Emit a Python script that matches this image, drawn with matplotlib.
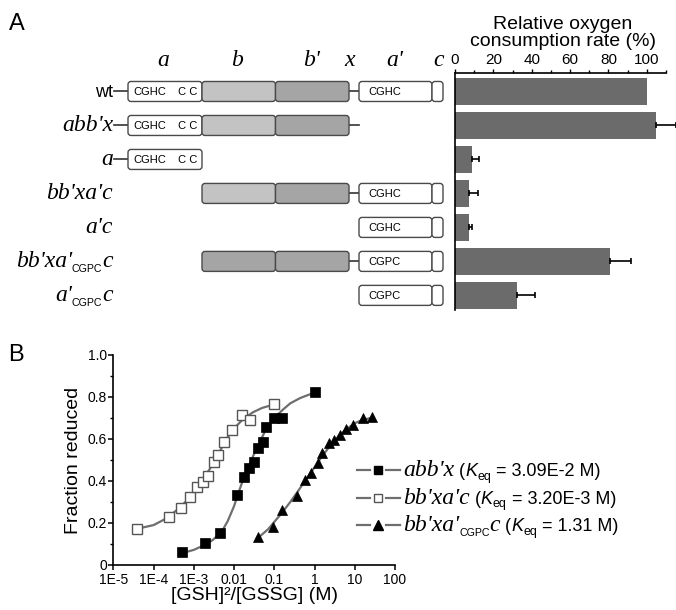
import numpy as np
import matplotlib
matplotlib.use('Agg')
import matplotlib.pyplot as plt
from matplotlib.patches import FancyBboxPatch
from matplotlib.ticker import FixedLocator, NullLocator, MultipleLocator

SANS = 'Liberation Sans'
SERIF = 'Liberation Serif'
plt.rcParams['font.family'] = SANS

# ---- panel A data ----
constructs = ["wt", "abb'x", "a", "bb'xa'c", "a'c", "bb'xa'CGPCc", "a'CGPCc"]
rate = [100, 105, 9, 7.5, 7.5, 81, 32.5]
rate_err = [0, 10, 3.5, 4.5, 1.5, 11, 9]
# domain make-up of every construct ("N" = N-terminal tail, "b*" = dark b)
row_domains = [["N", "a", "b", "b'", "x", "a'", "c"],
               ["N", "a", "b", "b'", "x"],
               ["N", "a"],
               ["b", "b'", "x", "a'", "c"],
               ["a'", "c"],
               ["b*", "b'", "x", "a'", "c"],
               ["a'", "c"]]
a2_motif = ["CGHC", None, None, "CGHC", "CGHC", "CGPC", "CGPC"]

# ---- panel B data ----
x_fill = [5.0e-4, 1.9e-3, 4.5e-3, 1.2e-2, 1.78e-2, 2.36e-2, 3.15e-2, 4.0e-2, 5.1e-2, 6.4e-2, 9.9e-2, 0.159, 1.0]
y_fill = [0.063, 0.103, 0.151, 0.333, 0.42, 0.46, 0.49, 0.556, 0.587, 0.659, 0.698, 0.698, 0.825]
x_open = [3.8e-5, 2.46e-4, 4.7e-4, 8.0e-4, 1.18e-3, 1.66e-3, 2.2e-3, 3.2e-3, 3.9e-3, 5.6e-3, 8.7e-3, 1.62e-2, 2.5e-2, 9.9e-2]
y_open = [0.171, 0.23, 0.27, 0.325, 0.37, 0.397, 0.425, 0.49, 0.524, 0.587, 0.643, 0.714, 0.69, 0.765]
x_tri = [0.040, 0.095, 0.153, 0.373, 0.58, 0.80, 1.24, 1.51, 2.33, 3.05, 4.3, 6.07, 9.2, 15.8, 26.5]
y_tri = [0.135, 0.18, 0.262, 0.329, 0.405, 0.437, 0.484, 0.532, 0.579, 0.595, 0.619, 0.646, 0.667, 0.70, 0.703]

# fitted curves
cx_fill = [5e-4, 1e-3, 2e-3, 3e-3, 5e-3, 7e-3, 1e-2, 1.5e-2, 2e-2, 3e-2, 4e-2, 6e-2, 0.1, 0.16, 0.25, 0.44, 0.7, 1.0]
cy_fill = [0.056, 0.072, 0.098, 0.12, 0.16, 0.21, 0.28, 0.38, 0.44, 0.52, 0.57, 0.64, 0.70, 0.738, 0.77, 0.795, 0.81, 0.82]
cx_open = [3.8e-5, 1e-4, 2e-4, 4e-4, 7e-4, 1e-3, 1.5e-3, 2e-3, 3e-3, 5e-3, 7e-3, 1e-2, 1.5e-2, 2e-2, 3e-2, 5e-2, 0.1]
cy_open = [0.172, 0.19, 0.22, 0.265, 0.31, 0.35, 0.395, 0.43, 0.48, 0.56, 0.61, 0.65, 0.685, 0.705, 0.728, 0.748, 0.765]
cx_tri = [0.04, 0.07, 0.1, 0.15, 0.25, 0.4, 0.6, 1.0, 1.5, 2.5, 4, 6, 10, 15, 25]
cy_tri = [0.13, 0.17, 0.205, 0.245, 0.30, 0.355, 0.405, 0.465, 0.515, 0.57, 0.615, 0.645, 0.675, 0.69, 0.70]

xtick_vals = [1e-5, 1e-4, 1e-3, 1e-2, 1e-1, 1, 10, 100]
xtick_labels = ['1E-5', '1E-4', '1E-3', '0.01', '0.1', '1', '10', '100']
keq_labels = ['3.09E-2', '3.20E-3', '1.31']

W, H = 676, 610
fig = plt.figure(figsize=(W / 100, H / 100), dpi=100)


def fx(px):
    return px / W


def fy(py):
    return 1 - py / H


# ---------------- bar chart (A, right) ----------------
axA = fig.add_axes([fx(455), fy(310), 211 / W, (310 - 73) / H])
ypos = np.arange(len(constructs))
axA.barh(ypos, rate, height=0.8, color='#6b6b6b', zorder=2)
err = np.array(rate_err, float)
m = err > 0
eb = axA.errorbar(np.array(rate)[m], ypos[m], xerr=[np.zeros(m.sum()), err[m]], fmt='none',
                  ecolor='k', elinewidth=1.2, capsize=2.5, capthick=1.2, zorder=3)
for art in list(eb.lines[1]) + list(eb.lines[2]):
    art.set_clip_on(False)
axA.set_xlim(0, 110)
axA.set_ylim(6.43, -0.544)
axA.xaxis.tick_top()
axA.xaxis.set_major_locator(MultipleLocator(20))
axA.xaxis.set_minor_locator(MultipleLocator(10))
axA.tick_params(axis='x', which='major', direction='out', length=3, width=1, labelsize=11, pad=1)
axA.tick_params(axis='x', which='minor', direction='out', length=2, width=1)
axA.tick_params(axis='y', left=False, labelleft=False)
for s in ('right', 'bottom'):
    axA.spines[s].set_visible(False)
for s in ('top', 'left'):
    axA.spines[s].set_linewidth(1.2)
axA.patch.set_alpha(0)

# ---------------- titration (B) ----------------
axB = fig.add_axes([fx(113.3), fy(565), (395 - 113.3) / W, (565 - 355) / H])
axB.set_xscale('log')
curve_kw = dict(color='#6e6e6e', lw=1.6, zorder=2)
axB.plot(cx_open, cy_open, **curve_kw)
axB.plot(cx_fill, cy_fill, **curve_kw)
axB.plot(cx_tri, cy_tri, **curve_kw)
axB.plot(x_open, y_open, 's', ms=6.5, mfc='white', mec='#555555', mew=1.0, zorder=3)
axB.plot(x_fill, y_fill, 's', ms=6.5, mfc='black', mec='black', mew=0.5, zorder=3)
axB.plot(x_tri, y_tri, '^', ms=7.5, mfc='black', mec='black', mew=0.5, zorder=3)
axB.set_xlim(1e-5, 100)
axB.set_ylim(0, 1)
axB.xaxis.set_major_locator(FixedLocator(xtick_vals))
axB.xaxis.set_minor_locator(NullLocator())
axB.set_xticklabels(xtick_labels)
axB.set_yticks([0, 0.2, 0.4, 0.6, 0.8, 1.0])
axB.set_yticklabels(['0', '0.2', '0.4', '0.6', '0.8', '1.0'])
axB.yaxis.set_minor_locator(MultipleLocator(0.1))
axB.tick_params(which='major', direction='out', length=3.5, width=1.1, labelsize=10, pad=1)
axB.tick_params(axis='x', which='major', pad=2.5)
axB.tick_params(which='minor', direction='out', length=2.5, width=1)
for s in ('right', 'top'):
    axB.spines[s].set_visible(False)
for s in ('left', 'bottom'):
    axB.spines[s].set_linewidth(1.2)
axB.set_xlabel('[GSH]\u00b2/[GSSG] (M)', fontsize=14, labelpad=0)
axB.set_ylabel('Fraction reduced', fontsize=14, labelpad=4)
axB.patch.set_alpha(0)

# ---------------- overlay in pixel coordinates ----------------
bg = fig.add_axes([0, 0, 1, 1], zorder=5)
bg.set_xlim(0, W)
bg.set_ylim(H, 0)
bg.axis('off')
renderer = fig.canvas.get_renderer()

IT = dict(family=SERIF, style='italic', fontsize=17)
SN = dict(family=SANS, fontsize=13)
SUB = dict(family=SANS, fontsize=7.7)


def rich(x, y, parts, ha='left'):
    arts, widths = [], []
    for s, kw, dy in parts:
        t = bg.text(0, 0, s, va='baseline', ha='left', **kw)
        widths.append(t.get_window_extent(renderer=renderer).width)
        arts.append(t)
    x0 = x - sum(widths) if ha == 'right' else x
    for t, w, (s, kw, dy) in zip(arts, widths, parts):
        t.set_position((x0, y + dy))
        x0 += w


def label_parts(name):
    if name == 'wt':
        return [('wt', SN, 0)]
    if 'CGPC' in name:
        head, tail = name.split('CGPC')
        return [(head, IT, 0), ('CGPC', SUB, 5), (tail, IT, 0)]
    return [(name, IT, 0)]


bg.text(17, 24, 'A', fontsize=17, ha='center', va='center')
bg.text(16, 355, 'B', fontsize=17, ha='center', va='center')

# domain header letters
for lab, xc in [('a', 163), ('b', 237), ("b'", 312), ('x', 350), ("a'", 395), ('c', 439)]:
    bg.text(xc, 66, lab, ha='center', va='baseline', **IT)

bg.text(563, 33, 'Relative oxygen\nconsumption rate (%)', fontsize=14, ha='center',
        va='center', linespacing=0.95)

spans = {'a': (128, 202), 'b': (202, 275.5), "b'": (275.5, 349), "a'": (359, 432), 'c': (432, 443)}
fills = {'a': 'white', 'b': '#c3c3c3', "b'": '#a5a5a5', "a'": 'white', 'c': 'white'}
EDGE = '#4a4a4a'


def box(x0, x1, yc, fc, h=20):
    bg.add_patch(FancyBboxPatch((x0, yc - h / 2), x1 - x0, h,
                                boxstyle='round,pad=0,rounding_size=3',
                                fc=fc, ec=EDGE, lw=1.0, zorder=2))


for i, doms in enumerate(row_domains):
    yc = H - axA.transData.transform((0, i))[1]
    rich(113, yc + 6, label_parts(constructs[i]), ha='right')
    for d in doms:
        if d == 'N':
            bg.plot([114, 128], [yc, yc], color='#333333', lw=1.2, zorder=1)
        elif d == 'x':
            bg.plot([349, 359], [yc, yc], color='#333333', lw=1.2, zorder=1)
        elif d == 'b*':
            box(*spans['b'], yc, fills["b'"])
        else:
            box(*spans[d], yc, fills[d])
            if d == 'a':
                bg.text(133, yc + 0.5, 'CGHC', fontsize=8, ha='left', va='center', zorder=3)
                bg.text(197, yc + 0.5, 'C C', fontsize=8, ha='right', va='center', zorder=3)
            if d == "a'":
                bg.text(368, yc + 0.5, a2_motif[i], fontsize=8, ha='left', va='center', zorder=3)

# legend of B
leg_rows = [("abb'x", dict(marker='s', mfc='black', mec='black', ms=5.5)),
            ("bb'xa'c", dict(marker='s', mfc='white', mec='#555555', ms=5.5)),
            ("bb'xa'CGPCc", dict(marker='^', mfc='black', mec='black', ms=7))]
for k, (name, mk) in enumerate(leg_rows):
    yc = 470 + 27.5 * k
    bg.plot([357, 370], [yc, yc], color='#6e6e6e', lw=1.6)
    bg.plot([386, 400], [yc, yc], color='#6e6e6e', lw=1.6)
    bg.plot([378], [yc], linestyle='none', mew=1.0, **mk)
    parts = label_parts(name) + [(' (', SN, 0), ('K', dict(SN, style='italic'), 0),
                                 ('eq', dict(family=SANS, fontsize=9), 4),
                                 (' = %s M)' % keq_labels[k], SN, 0)]
    rich(403, yc + 6, parts)

fig.savefig('out.png', dpi=100)
